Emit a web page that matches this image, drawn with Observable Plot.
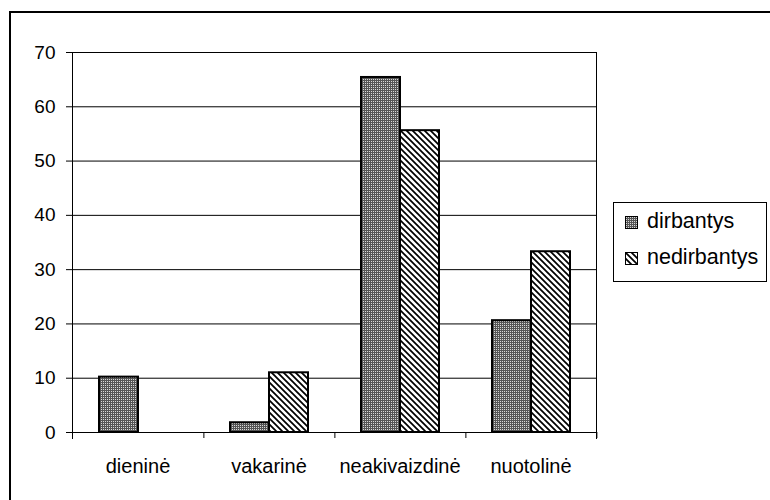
<!DOCTYPE html>
<html><head><meta charset="utf-8">
<script src="https://cdn.jsdelivr.net/npm/d3@7"></script>
<script src="https://cdn.jsdelivr.net/npm/@observablehq/plot@0.6"></script>
<style>
html,body{margin:0;padding:0;background:#fff;overflow:hidden;}
#wrap{position:relative;width:770px;height:500px;overflow:hidden;font-family:"Liberation Sans",Arial,sans-serif;}
#border{position:absolute;left:9px;top:11px;width:800px;height:600px;border:2px solid #000;}
#chart{position:absolute;left:0;top:0;}
#legend{position:absolute;left:613px;top:202px;width:154px;height:80px;border:1px solid #000;box-sizing:border-box;background:#fff;font-size:21.5px;line-height:24px;color:#000;}
#legend svg{position:absolute;left:11px;display:block;}
#legend span{position:absolute;left:33px;white-space:nowrap;}
</style></head><body>
<div id="wrap"><div id="border"></div><div id="chart"></div><div id="legend"></div></div>
<script>
const categories = ["dieninė", "vakarinė", "neakivaizdinė", "nuotolinė"];
const seriesNames = ["dirbantys", "nedirbantys"];
const dirbantys = [10.2, 1.8, 65.4, 20.6];
const nedirbantys = [0, 11.0, 55.6, 33.3];
const yTicks = [0, 10, 20, 30, 40, 50, 60, 70];
const patternIds = ["pDirb", "pNedirb"];

const rows = [];
categories.forEach((c, i) => {
  rows.push({category: c, series: seriesNames[0], value: dirbantys[i]});
  rows.push({category: c, series: seriesNames[1], value: nedirbantys[i]});
});

const W = 770, H = 500, mL = 70, mR = 173, mT = 52, mB = 68;
const step = (W - mL - mR) / categories.length;

const barMarks = seriesNames.map((s, k) =>
  Plot.barY(rows.filter(d => d.series === s), {
    fx: "category", x: "series", y: "value",
    fill: `url(#${patternIds[k]})`, stroke: "#000", strokeWidth: 2
  })
);

const chart = Plot.plot({
  width: W, height: H,
  marginLeft: mL, marginRight: mR, marginTop: mT, marginBottom: mB,
  style: {fontFamily: "Liberation Sans, Arial, sans-serif", fontSize: "19px", color: "#000", background: "transparent"},
  fx: {domain: categories, padding: 0, label: null, axis: null},
  x: {domain: seriesNames, paddingInner: 0, paddingOuter: 0.65, axis: null},
  y: {domain: [0, 70], label: null, axis: null},
  marks: [
    Plot.gridY(yTicks, {stroke: "#000", strokeOpacity: 1, strokeWidth: 1}),
    ...barMarks,
    Plot.ruleY([0], {stroke: "#000", strokeWidth: 1}),
    Plot.frame({anchor: "left", facetAnchor: "left", insetBottom: -6, stroke: "#000"}),
    Plot.frame({anchor: "right", facetAnchor: "right", insetBottom: -6, stroke: "#000"}),
    Plot.axisY(yTicks, {tickSize: 6, tickPadding: 11, fontSize: 19, label: null}),
    Plot.axisFx({anchor: "bottom", tickSize: 0, tickPadding: 26, fontSize: 20, label: null}),
    Plot.axisFx({anchor: "bottom", tickSize: 6, tickFormat: () => "", dx: step / 2, label: null})
  ]
});

d3.select(chart).insert("defs", ":first-child").html(`
  <pattern id="pDirb" patternUnits="userSpaceOnUse" width="2" height="2">
    <rect width="2" height="2" fill="#555"/>
    <rect x="1" y="1" width="1" height="1" fill="#d8d8d8"/>
  </pattern>
  <pattern id="pNedirb" patternUnits="userSpaceOnUse" width="6" height="6">
    <rect width="6" height="6" fill="#fff"/>
    <path d="M-1,-1L7,7M-1,5L1,7M5,-1L7,1" stroke="#000" stroke-width="1.7"/>
  </pattern>`);
document.getElementById("chart").appendChild(chart);

const legend = document.getElementById("legend");
seriesNames.forEach((s, k) => {
  const sw = document.createElementNS("http://www.w3.org/2000/svg", "svg");
  sw.setAttribute("width", 13); sw.setAttribute("height", 13);
  sw.style.top = (k === 0 ? 13 : 49) + "px";
  sw.innerHTML = `<rect x="0.5" y="0.5" width="12" height="12" fill="url(#${patternIds[k]})" stroke="#000"/>`;
  const t = document.createElement("span");
  t.textContent = s;
  t.style.top = (k === 0 ? 6 : 42) + "px";
  legend.appendChild(sw);
  legend.appendChild(t);
});
</script>
</body></html>
